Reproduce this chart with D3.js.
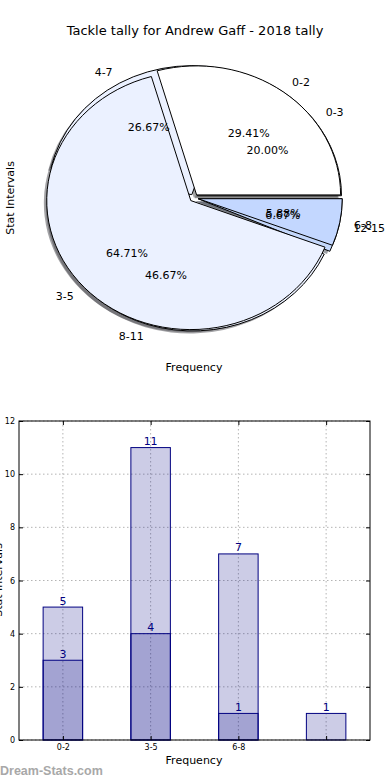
<html>
<head>
  <style>
  body { margin: 0; background: #fff; }
  svg text { font-family: "DejaVu Sans", sans-serif; fill: #000; }
  .wedge { stroke: #000; stroke-width: 1; vector-effect: non-scaling-stroke; }
  .grid line { stroke: #b4b4b4; stroke-width: 1; stroke-dasharray: 1.5,2.5; }
  .ax text { font-size: 8px; }
  .ax path { display: none; }
  .ax line { stroke: #000; }
  </style>
  <script src="https://d3js.org/d3.v7.min.js"></script>
</head>
<body>
  <svg id="chart" width="390" height="780"></svg>
</body>
  <script>
  // Pie data: two overlaid pies
  var catsA = ["0-3", "4-7", "8-11", "12-15"],
      valsA = [3, 4, 7, 1];
  var catsB = ["0-2", "3-5", "6-8"],
      valsB = [5, 11, 1];
  // Bar tick labels
  var barTicks = ["0-2", "3-5", "6-8", ""];

  var colorsA = ["#ffffff", "#ebf1ff", "#ebf1ff", "#c3d7fb"],
      colorsB = ["#ffffff", "#ebf1ff", "#c3d7ff"];

  var svg = d3.select("#chart");

  svg.append("text").attr("x", 195).attr("y", 35)
      .attr("text-anchor", "middle").style("font-size", "13px")
      .text("Tackle tally for Andrew Gaff - 2018 tally");

  // ---- pie ----
  var cx = 194, cy = 198, rx = 144, ry = 129, explode = 0.03;

  var pie = d3.pie().sort(null)
      .startAngle(Math.PI / 2)
      .endAngle(Math.PI / 2 - 2 * Math.PI);
  var arc = d3.arc().innerRadius(0).outerRadius(1);

  function wedges(vals, cats, colors) {
    return pie(vals).map(function(d, i) {
      var mid = Math.PI / 2 - (d.startAngle + d.endAngle) / 2; // mpl angle
      return {
        arc: d, cat: cats[i], color: colors[i],
        pct: (100 * d.value / d3.sum(vals)).toFixed(2) + "%",
        cos: Math.cos(mid), sin: Math.sin(mid),
        ox: explode * Math.cos(mid) * rx,
        oy: -explode * Math.sin(mid) * ry
      };
    });
  }
  var wa = wedges(valsA, catsA, colorsA),
      wb = wedges(valsB, catsB, colorsB),
      all = wa.concat(wb);

  var pieG = svg.append("g");
  // shadows first
  pieG.selectAll(".shadow").data(all).enter().append("path")
      .attr("transform", function(d) {
        return "translate(" + (cx + d.ox - 0.02 * rx) + "," + (cy + d.oy + 0.02 * ry) + ") scale(" + rx + "," + ry + ")";
      })
      .attr("d", function(d) { return arc(d.arc); })
      .attr("fill", function(d) {
        var c = d3.rgb(d.color);
        return d3.rgb(c.r * 0.3, c.g * 0.3, c.b * 0.3);
      })
      .attr("fill-opacity", 0.5);

  pieG.selectAll(".wedge").data(all).enter().append("path")
      .attr("class", "wedge")
      .attr("transform", function(d) {
        return "translate(" + (cx + d.ox) + "," + (cy + d.oy) + ") scale(" + rx + "," + ry + ")";
      })
      .attr("d", function(d) { return arc(d.arc); })
      .attr("fill", function(d) { return d.color; });

  // labels
  pieG.selectAll(".lab").data(all).enter().append("text")
      .attr("x", function(d) { return cx + d.ox + 1.1 * rx * d.cos; })
      .attr("y", function(d) { return cy + d.oy - 1.1 * ry * d.sin; })
      .attr("dy", "0.35em")
      .attr("text-anchor", function(d) { return d.cos > 0 ? "start" : "end"; })
      .style("font-size", "11px")
      .text(function(d) { return d.cat; });

  pieG.selectAll(".pct").data(all).enter().append("text")
      .attr("x", function(d) { return cx + d.ox + 0.6 * rx * d.cos; })
      .attr("y", function(d) { return cy + d.oy - 0.6 * ry * d.sin; })
      .attr("dy", "0.35em")
      .attr("text-anchor", "middle")
      .style("font-size", "11px")
      .text(function(d) { return d.pct; });

  svg.append("text").attr("x", 194).attr("y", 371)
      .attr("text-anchor", "middle").style("font-size", "11px").text("Frequency");
  svg.append("text").attr("transform", "translate(14,198) rotate(-90)")
      .attr("text-anchor", "middle").style("font-size", "11px").text("Stat Intervals");

  // ---- bars ----
  var plotL = 19, plotR = 370, plotT = 421, plotB = 740, barW = 0.45;
  var x = d3.scaleLinear().domain([-0.5, 3.5]).range([plotL, plotR]);
  var y = d3.scaleLinear().domain([0, 12]).range([plotB, plotT]);

  var grid = svg.append("g").attr("class", "grid");
  grid.selectAll(".gx").data(d3.range(barTicks.length)).enter().append("line")
      .attr("x1", x).attr("x2", x).attr("y1", plotT).attr("y2", plotB);
  grid.selectAll(".gy").data(y.ticks(6)).enter().append("line")
      .attr("x1", plotL).attr("x2", plotR).attr("y1", y).attr("y2", y);

  function bars(vals) {
    var g = svg.append("g");
    g.selectAll("rect").data(vals).enter().append("rect")
        .attr("x", function(d, i) { return x(i - barW / 2); })
        .attr("width", x(barW) - x(0))
        .attr("y", function(d) { return y(d); })
        .attr("height", function(d) { return y(0) - y(d); })
        .attr("fill", "#000080").attr("fill-opacity", 0.2)
        .attr("stroke", "#000080").attr("stroke-width", 1);
    g.selectAll("text").data(vals).enter().append("text")
        .attr("x", function(d, i) { return x(i); })
        .attr("y", function(d) { return y(d) - 2.5; })
        .attr("text-anchor", "middle")
        .style("font-size", "11px").style("fill", "#000080")
        .text(function(d) { return d; });
  }
  bars(valsA);
  bars(valsB);

  svg.append("rect").attr("x", plotL).attr("y", plotT)
      .attr("width", plotR - plotL).attr("height", plotB - plotT)
      .attr("fill", "none").attr("stroke", "#000").attr("stroke-width", 1);

  var xTickVals = d3.range(barTicks.length);
  svg.append("g").attr("class", "ax").attr("transform", "translate(0," + plotB + ")")
      .call(d3.axisBottom(x).tickValues(xTickVals).tickSize(-4).tickPadding(4)
        .tickFormat(function(d) { return barTicks[d]; }));
  svg.append("g").attr("class", "ax").attr("transform", "translate(0," + plotT + ")")
      .call(d3.axisTop(x).tickValues(xTickVals).tickSize(-4).tickFormat(""));
  svg.append("g").attr("class", "ax").attr("transform", "translate(" + plotL + ",0)")
      .call(d3.axisLeft(y).ticks(6).tickSize(-4).tickPadding(4));
  svg.append("g").attr("class", "ax").attr("transform", "translate(" + plotR + ",0)")
      .call(d3.axisRight(y).ticks(6).tickSize(-4).tickFormat(""));

  svg.append("text").attr("x", 194).attr("y", 764)
      .attr("text-anchor", "middle").style("font-size", "11px").text("Frequency");
  svg.append("text").attr("transform", "translate(2,580) rotate(-90)")
      .attr("text-anchor", "middle").style("font-size", "11px").text("Stat Intervals");

  svg.append("text").attr("x", 0).attr("y", 775)
      .style("font-family", "'Liberation Sans', sans-serif")
      .style("font-size", "12.5px").style("font-weight", "bold").style("fill", "#a8a8a8")
      .text("Dream-Stats.com");
  </script>
</html>
